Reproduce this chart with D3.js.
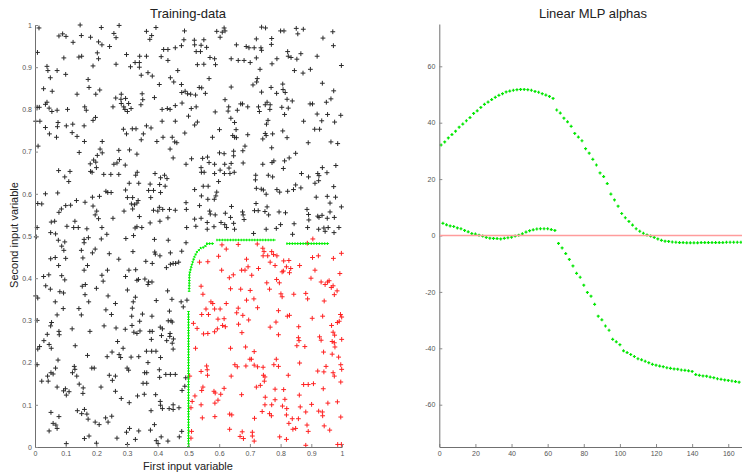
<!DOCTYPE html>
<html>
<head>
<meta charset="utf-8">
<script src="https://cdn.jsdelivr.net/npm/d3@7"></script>
<style>
  body { margin: 0; background: #fff; }
  text { font-family: "Liberation Sans", Arial, sans-serif; }
</style>
</head>
<body>
<div id="my_dataviz"></div>
<script>
//Training data, class 1 (black)
var blackPts = [
[.013,.993],[.147,1.0],[.216,.994],[.274,.999],[.394,.994],[.363,.985],[.380,.975],[.374,.966],[.487,.986],[.485,.965],[.078,.974],[.090,.979],[.101,.973],[.151,.975],[.181,.971],[.124,.959],[.207,.960],[.218,.953],[.243,.949],[.257,.980],[.264,.970],[.008,.935],[.094,.922],[.143,.924],[.152,.926],[.203,.934],[.207,.920],[.298,.930],[.341,.926],[.363,.926],[.419,.942],[.433,.942],[.457,.946],[.477,.951],[.411,.925],[.433,.916],[.326,.911],[.340,.911],[.311,.901],[.340,.900],[.264,.907],[.189,.903],[.039,.902],[.042,.892],[.072,.892],[.100,.883],[.050,.875],[.173,.871],[.346,.881],[.368,.887],[.382,.879],[.465,.892],[.441,.875],[.452,.865],[.477,.859],[.405,.859],[.028,.849],[.056,.843],[.137,.836],[.176,.852],[.211,.846],[.198,.836],[.281,.836],[.263,.827],[.280,.824],[.295,.826],[.349,.837],[.351,.823],[.389,.828],[.478,.840],[.489,.843],[.497,.837],[.039,.817],[.034,.812],[.007,.805],[.014,.805],[.046,.803],[.055,.795],[.072,.798],[.106,.800],[.162,.806],[.167,.798],[.254,.806],[.281,.814],[.289,.806],[.305,.814],[.293,.800],[.301,.795],[.313,.802],[.345,.811],[.414,.800],[.431,.802],[.440,.800],[.457,.809],[.479,.815],[.002,.772],[.016,.772],[.034,.757],[.075,.769],[.073,.759],[.102,.761],[.123,.765],[.160,.761],[.189,.774],[.197,.781],[.288,.753],[.317,.754],[.329,.754],[.363,.761],[.378,.756],[.414,.772],[.457,.772],[.500,.784],
[.592,.985],[.610,.983],[.616,.993],[.619,.986],[.603,.971],[.738,.995],[.751,.993],[.800,.986],[.811,.986],[.851,.992],[.874,.990],[.856,.979],[.970,.984],[.519,.964],[.550,.965],[.520,.953],[.541,.952],[.559,.947],[.525,.937],[.539,.937],[.656,.953],[.688,.949],[.697,.946],[.714,.946],[.736,.946],[.738,.940],[.721,.967],[.770,.954],[.771,.968],[.570,.923],[.585,.920],[.529,.906],[.550,.907],[.588,.906],[.639,.920],[.662,.916],[.681,.916],[.701,.911],[.721,.922],[.772,.908],[.788,.920],[.823,.937],[.825,.926],[.834,.923],[.853,.919],[.866,.932],[.919,.926],[.972,.951],[.938,.969],[.998,.904],[.845,.892],[.873,.886],[.897,.895],[.733,.895],[.724,.873],[.722,.865],[.710,.858],[.567,.873],[.535,.852],[.543,.851],[.507,.836],[.523,.834],[.555,.838],[.639,.853],[.738,.841],[.769,.852],[.787,.838],[.807,.860],[.808,.847],[.815,.840],[.821,.824],[.838,.820],[.619,.823],[.631,.806],[.629,.796],[.670,.813],[.676,.813],[.659,.798],[.693,.806],[.728,.806],[.731,.795],[.750,.811],[.756,.817],[.766,.811],[.765,.800],[.804,.805],[.825,.803],[.813,.788],[.896,.813],[.904,.813],[.949,.817],[.964,.825],[.973,.844],[.936,.862],[.525,.806],[.509,.802],[.587,.794],[.638,.779],[.650,.769],[.759,.774],[.754,.765],[.520,.763],[.529,.770],[.875,.772],[.919,.789],[.934,.773],[.953,.788],[.976,.770],[.996,.786],[.927,.753],[.911,.753],[.601,.752],[.655,.752],
[.047,.742],[.070,.734],[.121,.745],[.137,.736],[.161,.724],[.219,.724],[.298,.742],[.353,.742],[.346,.728],[.397,.724],[.417,.734],[.447,.734],[.455,.723],[.462,.721],[.488,.744],[.010,.713],[.144,.698],[.212,.706],[.219,.697],[.203,.691],[.191,.680],[.198,.675],[.180,.671],[.181,.653],[.186,.651],[.200,.662],[.257,.670],[.267,.673],[.275,.681],[.273,.703],[.308,.704],[.332,.694],[.294,.668],[.440,.706],[.450,.685],[.492,.670],[.077,.655],[.114,.653],[.097,.640],[.110,.629],[.224,.646],[.247,.646],[.273,.646],[.333,.651],[.328,.644],[.391,.648],[.409,.638],[.422,.644],[.430,.636],[.307,.625],[.338,.625],[.375,.623],[.406,.622],[.424,.618],[.034,.600],[.074,.602],[.231,.606],[.237,.603],[.248,.603],[.295,.609],[.370,.608],[.386,.608],[.409,.603],[.009,.577],[.022,.576],[.135,.584],[.163,.580],[.187,.592],[.210,.594],[.189,.571],[.201,.559],[.196,.550],[.207,.541],[.254,.542],[.290,.559],[.301,.591],[.318,.591],[.336,.584],[.314,.576],[.324,.574],[.332,.578],[.318,.564],[.340,.546],[.377,.591],[.386,.561],[.405,.568],[.400,.559],[.416,.563],[.438,.563],[.457,.561],[.492,.579],[.493,.563],[.100,.572],[.116,.573],[.086,.564],[.078,.556],[.053,.533],[.064,.535],[.130,.535],[.104,.523],[.126,.520],[.141,.520],[.169,.517],[.218,.520],[.326,.519],[.332,.522],[.348,.520],[.375,.531],[.407,.535],[.433,.543],[.494,.520],[.007,.520],[.051,.508],[.067,.505],[.321,.501],[.234,.504],
[.578,.734],[.644,.738],[.650,.734],[.656,.733],[.693,.740],[.742,.730],[.750,.743],[.753,.738],[.774,.742],[.807,.749],[.821,.733],[.890,.721],[.964,.723],[.986,.719],[.510,.683],[.546,.684],[.562,.687],[.567,.674],[.585,.670],[.601,.697],[.616,.695],[.647,.701],[.647,.690],[.677,.702],[.684,.713],[.678,.673],[.639,.672],[.618,.670],[.541,.662],[.542,.651],[.551,.651],[.585,.648],[.603,.656],[.617,.648],[.632,.661],[.635,.648],[.649,.651],[.598,.629],[.771,.709],[.742,.670],[.772,.674],[.778,.678],[.813,.678],[.828,.685],[.849,.696],[.809,.660],[.719,.644],[.718,.633],[.760,.644],[.774,.640],[.868,.648],[.891,.640],[.921,.648],[.925,.643],[.936,.662],[.951,.650],[.980,.667],[.924,.631],[.912,.625],[.548,.618],[.564,.618],[.520,.610],[.592,.604],[.589,.595],[.542,.595],[.563,.587],[.584,.587],[.721,.613],[.737,.611],[.744,.609],[.753,.599],[.788,.610],[.797,.604],[.823,.606],[.842,.610],[.849,.621],[.866,.614],[.973,.617],[.916,.592],[.952,.594],[.979,.592],[.536,.572],[.569,.559],[.571,.552],[.587,.550],[.640,.570],[.620,.554],[.637,.544],[.676,.557],[.678,.550],[.715,.560],[.727,.560],[.720,.577],[.756,.569],[.749,.558],[.761,.550],[.795,.557],[.816,.555],[.886,.563],[.891,.551],[.921,.547],[.925,.544],[.935,.549],[.952,.542],[.961,.557],[.975,.544],[.998,.569],[.961,.578],[.892,.538],[.520,.540],[.541,.542],[.561,.532],[.606,.532],[.618,.527],[.624,.520],[.647,.530],[.650,.516],[.681,.539],[.583,.522],[.561,.516],[.524,.523],[.844,.529],[.800,.527],[.786,.518],[.753,.516],[.712,.506],[.839,.504],[.888,.520],[.924,.516],[.941,.519],[.955,.520],[.945,.511],[.974,.508],[.990,.520],
[.004,.498],[.076,.490],[.097,.486],[.160,.492],[.160,.484],[.174,.496],[.216,.493],[.296,.494],[.389,.492],[.434,.490],[.492,.484],[.478,.464],[.087,.476],[.094,.466],[.151,.466],[.196,.469],[.187,.460],[.242,.458],[.319,.463],[.390,.462],[.392,.457],[.407,.453],[.441,.460],[.051,.446],[.066,.449],[.100,.447],[.156,.448],[.273,.445],[.171,.430],[.160,.419],[.077,.430],[.361,.440],[.382,.435],[.441,.433],[.450,.435],[.458,.435],[.468,.438],[.428,.425],[.236,.419],[.306,.419],[.328,.420],[.028,.404],[.045,.408],[.087,.406],[.097,.396],[.218,.407],[.222,.393],[.295,.404],[.332,.395],[.337,.397],[.358,.398],[.370,.391],[.381,.391],[.368,.385],[.035,.382],[.050,.374],[.081,.368],[.093,.365],[.154,.381],[.164,.385],[.200,.376],[.163,.361],[.301,.372],[.432,.370],[.002,.358],[.009,.353],[.066,.344],[.175,.344],[.238,.358],[.327,.355],[.320,.344],[.395,.347],[.446,.350],[.476,.344],[.495,.348],[.483,.332],[.092,.328],[.143,.328],[.231,.325],[.262,.340],[.317,.329],[.072,.313],[.151,.313],[.249,.314],[.315,.310],[.350,.315],[.381,.310],[.438,.322],[.434,.299],[.443,.299],[.447,.296],[.007,.300],[.054,.295],[.051,.287],[.121,.280],[.179,.274],[.225,.287],[.264,.282],[.316,.288],[.341,.298],[.294,.279],[.322,.272],[.332,.269],[.342,.275],[.374,.274],[.382,.274],[.415,.280],[.408,.284],[.412,.264],[.440,.269],[.439,.262],[.451,.256],[.040,.267],[.078,.274],[.079,.266],[.029,.252],[.269,.250],[.379,.255],[.429,.252],
[.009,.232],[.015,.238],[.046,.243],[.053,.234],[.131,.240],[.287,.234],[.447,.246],[.450,.232],[.007,.195],[.075,.206],[.171,.217],[.235,.214],[.251,.225],[.274,.219],[.279,.212],[.313,.213],[.338,.214],[.363,.227],[.380,.227],[.394,.227],[.409,.212],[.368,.200],[.022,.156],[.041,.168],[.043,.156],[.052,.176],[.059,.173],[.067,.187],[.072,.142],[.093,.133],[.099,.138],[.102,.123],[.111,.131],[.128,.191],[.130,.184],[.122,.176],[.136,.168],[.185,.187],[.193,.187],[.144,.149],[.157,.140],[.156,.127],[.215,.142],[.242,.170],[.262,.168],[.252,.158],[.300,.187],[.305,.182],[.357,.176],[.364,.176],[.352,.151],[.364,.151],[.405,.183],[.406,.165],[.426,.172],[.441,.172],[.457,.172],[.491,.164],[.488,.144],[.479,.134],[.262,.132],[.281,.115],[.307,.105],[.334,.121],[.356,.125],[.393,.124],[.378,.086],[.408,.108],[.409,.099],[.415,.091],[.437,.091],[.450,.100],[.450,.089],[.469,.093],[.138,.086],[.152,.079],[.169,.078],[.161,.089],[.173,.066],[.052,.082],[.078,.072],[.230,.069],[.238,.059],[.250,.073],[.196,.059],[.209,.053],[.059,.056],[.068,.052],[.072,.044],[.046,.038],[.298,.035],[.308,.044],[.338,.038],[.376,.040],[.389,.053],[.176,.026],[.161,.020],[.200,.009],[.267,.021],[.327,.018],[.395,.015],[.411,.024],[.401,.008],[.433,.014],[.470,.024],[.478,.037],[.301,.006],[.102,.008]
];

//Training data, class 2 (red)
var redPts = [
[.609,.479],[.623,.469],[.662,.480],[.724,.481],[.742,.471],[.746,.463],[.743,.453],[.758,.453],[.771,.463],[.777,.456],[.788,.453],[.766,.438],[.782,.430],[.887,.483],[.905,.493],[.904,.449],[.923,.453],[.972,.447],[.998,.459],[.536,.438],[.563,.439],[.598,.452],[.689,.445],[.694,.427],[.673,.419],[.684,.419],[.728,.423],[.706,.407],[.608,.419],[.646,.408],[.633,.401],[.809,.417],[.805,.415],[.819,.427],[.833,.423],[.829,.413],[.810,.441],[.827,.442],[.862,.430],[.912,.419],[.958,.394],[.953,.391],[.945,.385],[.932,.391],[.971,.382],[.965,.378],[.984,.370],[.993,.411],[.899,.400],[.541,.381],[.547,.362],[.637,.375],[.670,.374],[.701,.371],[.755,.389],[.764,.374],[.787,.397],[.796,.389],[.801,.363],[.805,.356],[.843,.362],[.882,.364],[.888,.351],[.942,.346],[.975,.361],[.573,.344],[.579,.340],[.623,.340],[.689,.348],[.713,.351],[.725,.330],[.662,.329],[.557,.327],[.585,.327],[.603,.327],[.543,.314],[.565,.314],[.657,.318],[.677,.312],[.793,.323],[.822,.310],[.829,.312],[.937,.310],[.995,.314],[.999,.308],[.991,.298],[.985,.295],[.516,.293],[.528,.281],[.596,.303],[.616,.304],[.611,.288],[.594,.280],[.620,.285],[.663,.291],[.696,.301],[.766,.284],[.785,.296],[.859,.285],[.903,.305],[.966,.288],[.549,.268],[.563,.269],[.585,.273],[.674,.271],[.793,.266],[.858,.259],[.927,.261],[.932,.253],[.971,.272],[.976,.265],[.999,.255],[.968,.250],[.860,.252],
[.523,.234],[.637,.234],[.686,.237],[.714,.226],[.853,.240],[.879,.238],[.975,.247],[.977,.237],[.940,.225],[.968,.220],[.989,.213],[.996,.195],[.700,.208],[.705,.208],[.651,.195],[.659,.190],[.687,.192],[.714,.194],[.725,.190],[.743,.189],[.778,.195],[.786,.208],[.793,.191],[.862,.199],[.559,.192],[.561,.183],[.541,.179],[.562,.170],[.504,.168],[.639,.168],[.744,.170],[.749,.166],[.747,.156],[.825,.170],[.921,.180],[.948,.191],[.941,.178],[.971,.176],[.975,.168],[.999,.184],[.996,.154],[.547,.142],[.543,.134],[.583,.132],[.587,.128],[.605,.125],[.616,.139],[.721,.142],[.734,.146],[.782,.137],[.810,.136],[.861,.123],[.875,.148],[.890,.148],[.907,.150],[.939,.138],[.673,.124],[.521,.121],[.512,.108],[.541,.100],[.586,.104],[.596,.111],[.508,.093],[.545,.069],[.586,.072],[.750,.118],[.749,.100],[.782,.112],[.771,.100],[.814,.113],[.806,.097],[.820,.091],[.864,.095],[.901,.101],[.954,.104],[.985,.107],[.740,.084],[.764,.079],[.770,.074],[.819,.076],[.634,.078],[.641,.076],[.715,.068],[.882,.083],[.924,.085],[.936,.083],[.937,.074],[.996,.071],[.827,.056],[.838,.067],[.858,.067],[.886,.052],[.890,.037],[.942,.050],[.960,.040],[.510,.037],[.508,.021],[.634,.042],[.675,.036],[.668,.025],[.679,.020],[.708,.035],[.708,.026],[.714,.014],[.797,.024],[.819,.018],[.840,.042],[.849,.044],[.882,.004],[.986,.006],[.998,.006]
];

//Decision boundary pieces (green)
var boundaryPieces = [
  [[.500,0],[.500,.322]],
  [[.502,.368],[.503,.410],[.510,.430],[.518,.448],[.526,.461],[.540,.471],[.553,.474],[.561,.482],[.583,.482]],
  [[.591,.4905],[.784,.4905]],
  [[.819,.482],[.958,.482]]
];

//Linear MLP alphas
var alphaA = [[1,32.1],[3,33.2],[5,34.6],[7,35.8],[9,37.0],[11,38.4],[13,39.5],[15,40.7],[17,41.8],[19,43.3],[21,44.2],[23,45.4],[25,46.5],[27,47.3],[29,48.2],[31,49.0],[33,49.7],[35,50.3],[37,50.9],[39,51.2],[41,51.5],[43,51.7],[45,51.8],[47,51.8],[49,51.7],[51,51.5],[53,51.1],[55,50.8],[57,50.3],[59,49.8],[61,49.3],[63,48.6]];
var alphaB = [[65,44.5],[67,43.4],[69,41.6],[71,40.3],[73,38.7],[75,36.2],[77,34.9],[79,33.6],[81,30.8],[83,29.2],[85,27.0],[87,25.0],[89,22.2],[91,20.9],[93,18.4],[95,14.7],[97,12.6],[99,10.4],[101,7.8],[103,6.3],[105,5.0],[107,3.7],[109,2.4],[111,1.5],[113,0.8],[115,0.2],[117,-0.2],[119,-0.7],[121,-1.2],[123,-1.7],[125,-2.0],[127,-2.1],[129,-2.3],[131,-2.4],[133,-2.5],[135,-2.5],[137,-2.6],[139,-2.6],[141,-2.6],[143,-2.6],[145,-2.5],[147,-2.5],[149,-2.5],[151,-2.5],[153,-2.5],[155,-2.5],[157,-2.5],[159,-2.4],[161,-2.4],[163,-2.4],[165,-2.4],[167,-2.4]];
var alphaC = [[2,4.3],[4,3.8],[6,3.4],[8,3.2],[10,2.7],[12,2.4],[14,1.8],[16,1.3],[18,0.7],[20,0.5],[22,0.1],[24,-0.2],[26,-0.7],[28,-0.95],[30,-1.05],[32,-1.1],[34,-1.2],[36,-1.0],[38,-0.8],[40,-0.6],[42,-0.2],[44,0.1],[46,0.6],[48,1.2],[50,1.7],[52,2.0],[54,2.3],[56,2.4],[58,2.4],[60,2.4],[62,2.1],[64,1.8]];
var alphaD = [[66,-2.8],[68,-4.4],[70,-6.4],[72,-8.5],[74,-10.8],[76,-13.4],[78,-14.8],[80,-17.6],[82,-20.2],[84,-21.5],[86,-24.4],[88,-28.6],[90,-29.9],[92,-32.1],[94,-33.6],[96,-36.8],[98,-37.7],[100,-38.7],[102,-40.9],[104,-41.5],[106,-42.2],[108,-42.9],[110,-43.7],[112,-44.1],[114,-44.6],[116,-45.1],[118,-45.7],[120,-46.0],[122,-46.3],[124,-46.5],[126,-46.9],[128,-47.1],[130,-47.3],[132,-47.4],[134,-47.7],[136,-47.8],[138,-48.0],[140,-48.2],[142,-49.3],[144,-49.6],[146,-49.8],[148,-49.9],[150,-50.2],[152,-50.4],[154,-50.8],[156,-51.0],[158,-51.2],[160,-51.4],[162,-51.6],[164,-51.8],[166,-52.0]];

//Tick labels
var unitTicks = [0,0.1,0.2,0.3,0.4,0.5,0.6,0.7,0.8,0.9,1];
var unitLabels = ["0","0.1","0.2","0.3","0.4","0.5","0.6","0.7","0.8","0.9","1"];
var alphaXTicks = [0,20,40,60,80,100,120,140,160];
var alphaYTicks = [-60,-40,-20,0,20,40,60];

var width = 742, height = 472;

var svg = d3.select("#my_dataviz")
  .append("svg")
    .attr("width", width)
    .attr("height", height)
    .style("display", "block");
svg.append("rect").attr("width", width).attr("height", height).attr("fill", "#fff");

//Scales
var xL = d3.scaleLinear().domain([0, 1]).range([35, 342]);
var yL = d3.scaleLinear().domain([0, 1]).range([447, 25]);
var xR = d3.scaleLinear().domain([0, 170]).range([439.3, 439.3 + 170 * 1.806]);
var yR = d3.scaleLinear().domain([-75, 75]).range([447, 24]);

var cross = function(r) { return "M" + (-r) + ",0H" + r + "M0," + (-r) + "V" + r; };

//Scatter points
svg.append("g")
  .selectAll("path")
  .data(blackPts)
  .enter()
  .append("path")
    .attr("d", cross(2.4))
    .attr("transform", function(d) { return "translate(" + xL(d[0]) + "," + yL(d[1]) + ")"; })
    .attr("fill", "none")
    .attr("stroke", "#2a2a2a")
    .attr("stroke-width", 1);

svg.append("g")
  .selectAll("path")
  .data(redPts)
  .enter()
  .append("path")
    .attr("d", cross(2.4))
    .attr("transform", function(d) { return "translate(" + xL(d[0]) + "," + yL(d[1]) + ")"; })
    .attr("fill", "none")
    .attr("stroke", "#ff2020")
    .attr("stroke-width", 1);

//Decision boundary (dotted green)
var lineL = d3.line().x(function(d) { return xL(d[0]); }).y(function(d) { return yL(d[1]); });
var gB = svg.append("g");
gB.selectAll(".bline")
  .data(boundaryPieces)
  .enter()
  .append("path")
    .attr("d", lineL)
    .attr("fill", "none")
    .attr("stroke", "#00f000")
    .attr("stroke-width", 1);
gB.selectAll(".bdash")
  .data(boundaryPieces)
  .enter()
  .append("path")
    .attr("d", lineL)
    .attr("fill", "none")
    .attr("stroke", "#00f000")
    .attr("stroke-width", 2.6)
    .attr("stroke-dasharray", "1,1.7");

//Alpha dots
[alphaA, alphaB, alphaC, alphaD].forEach(function(s) {
  svg.append("g")
    .selectAll("path")
    .data(s)
    .enter()
    .append("path")
      .attr("d", cross(1.5))
      .attr("transform", function(d) { return "translate(" + xR(d[0]) + "," + yR(d[1]) + ")"; })
      .attr("fill", "none")
      .attr("stroke", "#00e600")
      .attr("stroke-width", 1.2);
});

//Axes
var styleAxis = function(g) {
  g.select(".domain").attr("stroke", "#707070");
  g.selectAll(".tick line").attr("stroke", "#8a8a8a");
  g.selectAll(".tick text").attr("fill", "#555").style("font-size", "7px")
    .style("font-family", "'Liberation Sans', Arial, sans-serif");
};
var unitFmt = function(d, i) { return unitLabels[i]; };

svg.append("g")
  .attr("transform", "translate(0,447)")
  .call(d3.axisBottom(xL).tickValues(unitTicks).tickFormat(unitFmt).tickSize(-3).tickSizeOuter(0).tickPadding(4))
  .call(styleAxis);
svg.append("g")
  .attr("transform", "translate(35,0)")
  .call(d3.axisLeft(yL).tickValues(unitTicks).tickFormat(unitFmt).tickSize(-3).tickSizeOuter(0).tickPadding(3))
  .call(styleAxis);

svg.append("g")
  .attr("transform", "translate(0,447)")
  .call(d3.axisBottom(xR).tickValues(alphaXTicks).tickFormat(function(d) { return String(d); }).tickSize(-3).tickSizeOuter(0).tickPadding(4))
  .call(styleAxis);
svg.append("g")
  .attr("transform", "translate(439.3,0)")
  .call(d3.axisLeft(yR).tickValues(alphaYTicks).tickFormat(function(d) { return String(d); }).tickSize(-3).tickSizeOuter(0).tickPadding(4))
  .call(styleAxis);

//Zero line
svg.append("path")
  .attr("d", "M" + (xR(0) + 0.5) + "," + yR(0) + "H" + width)
  .attr("fill", "none")
  .style("stroke", "#ff9c9c")
  .style("stroke-width", "1.3px");

//Titles and labels
svg.append("text")
  .attr("x", 188).attr("y", 18)
  .attr("text-anchor", "middle")
  .style("font-size", "13px").attr("fill", "#222")
  .text("Training-data");
svg.append("text")
  .attr("x", 593).attr("y", 18)
  .attr("text-anchor", "middle")
  .style("font-size", "13px").attr("fill", "#222")
  .text("Linear MLP alphas");
svg.append("text")
  .attr("x", 188).attr("y", 469.5)
  .attr("text-anchor", "middle")
  .style("font-size", "11px").attr("fill", "#222")
  .text("First input variable");
svg.append("text")
  .attr("transform", "translate(17.5,235) rotate(-90)")
  .attr("text-anchor", "middle")
  .style("font-size", "11px").attr("fill", "#222")
  .text("Second input variable");
</script>
</body>
</html>
